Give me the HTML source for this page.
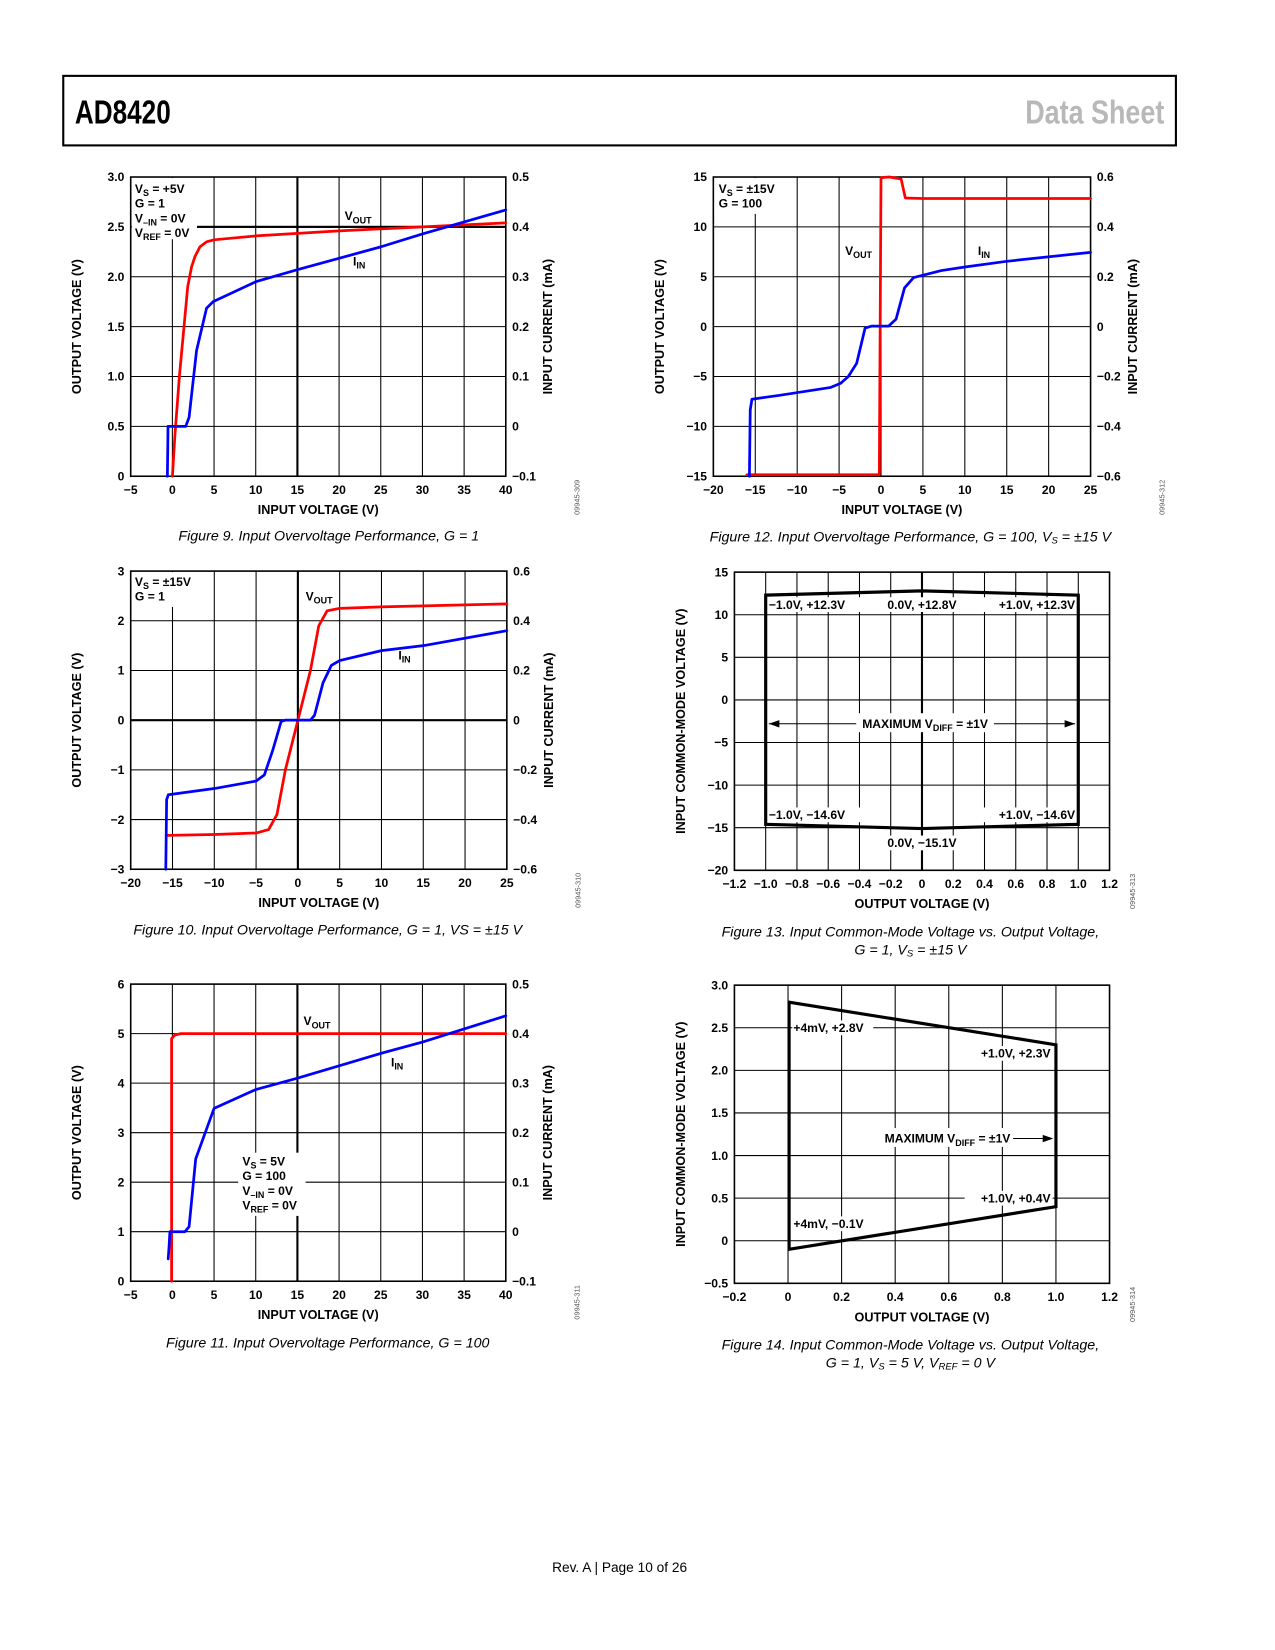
<!DOCTYPE html>
<html><head><meta charset="utf-8"><title>AD8420 Data Sheet p10</title>
<style>
html,body{margin:0;padding:0;background:#fff;}
svg{display:block;font-family:"Liberation Sans",Arial,sans-serif;}
</style></head>
<body>
<svg id="page" width="1275" height="1650" viewBox="0 0 1210 1566" xmlns="http://www.w3.org/2000/svg">
  <rect x="0" y="0" width="1210" height="1566" fill="#fff"/>
  <g>
    <rect x="60" y="72" width="1056" height="66" fill="none" stroke="#000" stroke-width="2"/>
    <text x="71" y="117" font-size="32" font-weight="bold" textLength="91" lengthAdjust="spacingAndGlyphs" fill="#000">AD8420</text>
    <text x="1105" y="117" font-size="32" font-weight="bold" text-anchor="end" textLength="132" lengthAdjust="spacingAndGlyphs" fill="#b8b8b8">Data Sheet</text>
  </g>
  <g id="charts"></g>
  <g font-style="italic" font-size="13.5" fill="#000" text-anchor="middle">
    <text x="312" y="513">Figure 9. Input Overvoltage Performance, G = 1</text>
    <text x="864" y="514">Figure 12. Input Overvoltage Performance, G = 100, V<tspan font-size="9" dy="2">S</tspan><tspan dy="-2"> = ±15 V</tspan></text>
    <text x="311" y="887">Figure 10. Input Overvoltage Performance, G = 1, VS = ±15 V</text>
    <text x="864" y="889">Figure 13. Input Common-Mode Voltage vs. Output Voltage,</text>
    <text x="864" y="906">G = 1, V<tspan font-size="9" dy="2">S</tspan><tspan dy="-2"> = ±15 V</tspan></text>
    <text x="311" y="1279">Figure 11. Input Overvoltage Performance, G = 100</text>
    <text x="864" y="1281">Figure 14. Input Common-Mode Voltage vs. Output Voltage,</text>
    <text x="864" y="1298">G = 1, V<tspan font-size="9" dy="2">S</tspan><tspan dy="-2"> = 5 V, V</tspan><tspan font-size="9" dy="2">REF</tspan><tspan dy="-2"> = 0 V</tspan></text>
  </g>
  <text x="588" y="1492" font-size="13" text-anchor="middle" fill="#000">Rev. A | Page 10 of 26</text>
</svg>
<script>
// ---------- DATA ----------
// Figure 9
const f9XTicks = [-5,0,5,10,15,20,25,30,35,40];
const f9XLabels = ["−5","0","5","10","15","20","25","30","35","40"];
const f9YTicks = [0,0.5,1.0,1.5,2.0,2.5,3.0];
const f9YLabels = ["0","0.5","1.0","1.5","2.0","2.5","3.0"];
const f9Y2Ticks = [-0.1,0,0.1,0.2,0.3,0.4,0.5];
const f9Y2Labels = ["−0.1","0","0.1","0.2","0.3","0.4","0.5"];
const f9VoutX = [0,0.3,0.84,1.4,1.84,2.3,2.7,3.3,4.1,5,10,20,30,40];
const f9VoutY = [0,0.4,1.0,1.5,1.9,2.1,2.2,2.3,2.35,2.37,2.41,2.46,2.5,2.54];
const f9IinX = [-0.6,-0.55,-0.52,1.6,2.0,2.9,4.1,4.9,10,15,25,30,40];
const f9IinY = [-0.1,-0.04,0,0,0.018,0.152,0.237,0.25,0.29,0.314,0.36,0.386,0.434];
// Figure 12
const f12XTicks = [-20,-15,-10,-5,0,5,10,15,20,25];
const f12XLabels = ["−20","−15","−10","−5","0","5","10","15","20","25"];
const f12YTicks = [-15,-10,-5,0,5,10,15];
const f12YLabels = ["−15","−10","−5","0","5","10","15"];
const f12Y2Ticks = [-0.6,-0.4,-0.2,0,0.2,0.4,0.6];
const f12Y2Labels = ["−0.6","−0.4","−0.2","0","0.2","0.4","0.6"];
const f12VoutX = [-16,-0.2,0,0.2,1,2.4,2.9,5,25];
const f12VoutY = [-14.85,-14.85,14.9,14.95,15,14.8,12.9,12.85,12.85];
const f12IinX = [-15.7,-15.6,-15.4,-12.2,-6,-4.8,-3.9,-2.9,-1.9,-1.1,0.9,1.8,2.8,3.9,7.2,10,15,25];
const f12IinY = [-0.6,-0.334,-0.291,-0.276,-0.244,-0.227,-0.2,-0.147,-0.006,0.002,0.002,0.03,0.155,0.197,0.225,0.239,0.262,0.298];
// Figure 10
const f10XTicks = [-20,-15,-10,-5,0,5,10,15,20,25];
const f10XLabels = ["−20","−15","−10","−5","0","5","10","15","20","25"];
const f10YTicks = [-3,-2,-1,0,1,2,3];
const f10YLabels = ["−3","−2","−1","0","1","2","3"];
const f10Y2Ticks = [-0.6,-0.4,-0.2,0,0.2,0.4,0.6];
const f10Y2Labels = ["−0.6","−0.4","−0.2","0","0.2","0.4","0.6"];
const f10VoutX = [-15.6,-10,-5,-3.5,-2.5,-1.5,0,1.5,2.5,3.5,5,10,25];
const f10VoutY = [-2.32,-2.3,-2.27,-2.2,-1.9,-1.0,0,1.0,1.9,2.2,2.25,2.28,2.34];
const f10IinX = [-15.8,-15.7,-15.5,-10,-5,-4,-3,-2,-1.5,1.5,2,3,4,5,10,15,25];
const f10IinY = [-0.6,-0.32,-0.3,-0.275,-0.245,-0.22,-0.12,-0.005,0,0,0.02,0.15,0.22,0.24,0.28,0.3,0.36];
// Figure 11
const f11XTicks = [-5,0,5,10,15,20,25,30,35,40];
const f11XLabels = ["−5","0","5","10","15","20","25","30","35","40"];
const f11YTicks = [0,1,2,3,4,5,6];
const f11YLabels = ["0","1","2","3","4","5","6"];
const f11Y2Ticks = [-0.1,0,0.1,0.2,0.3,0.4,0.5];
const f11Y2Labels = ["−0.1","0","0.1","0.2","0.3","0.4","0.5"];
const f11VoutX = [-0.1,-0.1,0.3,1,40];
const f11VoutY = [0,4.9,4.97,5,5];
const f11IinX = [-0.5,-0.4,-0.3,1.5,2,2.8,5,10,15,20,25,30,40];
const f11IinY = [-0.055,-0.03,0,0,0.01,0.147,0.249,0.287,0.31,0.335,0.36,0.383,0.436];
// Figure 13
const f13XTicks = [-1.2,-1.0,-0.8,-0.6,-0.4,-0.2,0,0.2,0.4,0.6,0.8,1.0,1.2];
const f13XLabels = ["−1.2","−1.0","−0.8","−0.6","−0.4","−0.2","0","0.2","0.4","0.6","0.8","1.0","1.2"];
const f13YTicks = [-20,-15,-10,-5,0,5,10,15];
const f13YLabels = ["−20","−15","−10","−5","0","5","10","15"];
const f13BoundX = [-1.0,0,1.0,1.0,0,-1.0];
const f13BoundY = [12.3,12.8,12.3,-14.6,-15.1,-14.6];
// Figure 14
const f14XTicks = [-0.2,0,0.2,0.4,0.6,0.8,1.0,1.2];
const f14XLabels = ["−0.2","0","0.2","0.4","0.6","0.8","1.0","1.2"];
const f14YTicks = [-0.5,0,0.5,1.0,1.5,2.0,2.5,3.0];
const f14YLabels = ["−0.5","0","0.5","1.0","1.5","2.0","2.5","3.0"];
const f14BoundX = [0.004,1.0,1.0,0.004];
const f14BoundY = [2.8,2.3,0.4,-0.1];

// ---------- DRAWING ----------
const NS = "http://www.w3.org/2000/svg";
const root = document.getElementById('charts');
function mk(tag, attrs, parent) {
  const e = document.createElementNS(NS, tag);
  for (const k in attrs) e.setAttribute(k, attrs[k]);
  parent.appendChild(e);
  return e;
}
function lin(d0, d1, r0, r1) { return v => r0 + (v - d0) * (r1 - r0) / (d1 - d0); }

function chart(cfg) {
  const g = mk('g', {}, root);
  
  
  const [x0, y0, x1, y1] = cfg.box;
  const sx = lin(cfg.xd[0], cfg.xd[1], x0, x1);
  const sy = lin(cfg.yd[0], cfg.yd[1], y1, y0);
  const sy2 = cfg.y2d ? lin(cfg.y2d[0], cfg.y2d[1], y1, y0) : null;
  const grid = mk('g', {stroke: '#000'}, g);
  
  
  cfg.xt.forEach(v => {
    const gl = mk('line', {x1: sx(v), x2: sx(v), y1: y0, y2: y1, 'stroke-width': (cfg.thickX || []).includes(v) ? 2 : 1}, grid);
    
    
  });
  cfg.yt.forEach(v => {
    const gl = mk('line', {x1: x0, x2: x1, y1: sy(v), y2: sy(v), 'stroke-width': (cfg.thickY || []).includes(v) ? 2 : 1}, grid);
    
    
  });
  const frame = mk('rect', {x: x0, y: y0, width: x1 - x0, height: y1 - y0, fill: 'none', stroke: '#000', 'stroke-width': 1.5}, g);
  
  
  const tl = mk('g', {'font-size': 11.5, 'font-weight': 'bold', fill: '#000'}, g);
  cfg.xt.forEach((v, i) => {
    const t = mk('text', {x: sx(v), y: y1 + 17, 'text-anchor': 'middle'}, tl);
    t.textContent = cfg.xl[i];
    
    
  });
  cfg.yt.forEach((v, i) => {
    const t = mk('text', {x: x0 - 6, y: sy(v) + 4, 'text-anchor': 'end'}, tl);
    t.textContent = cfg.yl[i];
    
    
  });
  if (cfg.y2t) cfg.y2t.forEach((v, i) => {
    const t = mk('text', {x: x1 + 6, y: sy2(v) + 4, 'text-anchor': 'start'}, tl);
    t.textContent = cfg.y2l[i];
    
    
  });
  const xt = mk('text', {x: (x0 + x1) / 2, y: y1 + 36, 'text-anchor': 'middle', 'font-size': 12, 'font-weight': 'bold'}, g);
  xt.textContent = cfg.xTitle;
  
  
  const ytx = x0 - cfg.yTitleOff, yty = (y0 + y1) / 2;
  const yt = mk('text', {x: ytx, y: yty, 'text-anchor': 'middle', 'font-size': 12, 'font-weight': 'bold', transform: `rotate(-90 ${ytx} ${yty})`}, g);
  yt.textContent = cfg.yTitle;
  
  
  if (cfg.y2Title) {
    const tx = x1 + 44;
    const t2 = mk('text', {x: tx, y: yty, 'text-anchor': 'middle', 'font-size': 12, 'font-weight': 'bold', transform: `rotate(-90 ${tx} ${yty})`}, g);
    t2.textContent = cfg.y2Title;
    
    
  }
  const cx = x1 + (cfg.codeOff || 70), cy = y1 + 20;
  const code = mk('text', {x: cx, y: cy, 'font-size': 7, fill: '#555', 'text-anchor': 'middle', transform: `rotate(-90 ${cx} ${cy})`}, g);
  code.textContent = cfg.code;
  
  
  return {g, sx, sy, sy2, x0, y0, x1, y1};
}
function series(c, xs, ys, scaleY, color, name, width) {
  const d = xs.map((x, i) => (i ? 'L' : 'M') + c.sx(x).toFixed(1) + ',' + scaleY(ys[i]).toFixed(1)).join(' ');
  const p = mk('path', {d: d, fill: 'none', stroke: color, 'stroke-width': width || 2.6, 'stroke-linejoin': 'round', 'stroke-linecap': 'round'}, c.g);
  
  
  return p;
}
function whiteBox(c, x, y, w, h, name) {
  const r = mk('rect', {x: x, y: y, width: w, height: h, fill: '#fff'}, c.g);
  
  
}
function label(c, x, y, main, sub, name, anchor, tail) {
  const t = mk('text', {x: x, y: y, 'font-size': 11.5, 'font-weight': 'bold', 'text-anchor': anchor || 'start'}, c.g);
  const a = mk('tspan', {}, t); a.textContent = main;
  if (sub) { const b = mk('tspan', {dy: 3, 'font-size': 8.5}, t); b.textContent = sub; }
  if (tail) { const e = mk('tspan', {dy: -3, 'font-size': 11.5}, t); e.textContent = tail; }
  
  
  return t;
}
function legendLines(c, x, y, lines, name) {
  const t = mk('g', {}, c.g);
  
  
  lines.forEach((ln, i) => {
    const tx = mk('text', {x: x, y: y + i * 14, 'font-size': 11.5, 'font-weight': 'bold'}, t);
    const a = mk('tspan', {}, tx); a.textContent = ln[0];
    if (ln[1]) { const b = mk('tspan', {dy: 3, 'font-size': 8.5}, tx); b.textContent = ln[1];
      const cc = mk('tspan', {dy: -3, 'font-size': 11.5}, tx); cc.textContent = ln[2]; }
  });
}

// Figure 9
const c9 = chart({name: 'figure-9-chart', box: [124, 168, 480, 452], xd: [-5, 40], yd: [0, 3], y2d: [-0.1, 0.5],
  xt: f9XTicks, xl: f9XLabels, yt: f9YTicks, yl: f9YLabels, y2t: f9Y2Ticks, y2l: f9Y2Labels, thickX: [15], thickY: [2.5],
  xTitle: 'INPUT VOLTAGE (V)', yTitle: 'OUTPUT VOLTAGE (V)', yTitleOff: 47, y2Title: 'INPUT CURRENT (mA)', code: '09945-309'});
whiteBox(c9, 125, 169, 62, 58, 'legend-background');
mk('line', {x1: 187, x2: 480, y1: c9.sy(2.5), y2: c9.sy(2.5), stroke: '#000', 'stroke-width': 2}, c9.g);
legendLines(c9, 128, 183, [['V', 'S', ' = +5V'], ['G = 1'], ['V', '–IN', ' = 0V'], ['V', 'REF', ' = 0V']], 'conditions-legend');
series(c9, f9VoutX, f9VoutY, c9.sy, '#ff0000', 'vout-series');
series(c9, f9IinX, f9IinY, c9.sy2, '#0000ff', 'iin-series');
label(c9, 327, 209, 'V', 'OUT', 'vout-label');
label(c9, 335, 252, 'I', 'IN', 'iin-label');

// Figure 12
const c12 = chart({name: 'figure-12-chart', box: [677, 168, 1035, 452], xd: [-20, 25], yd: [-15, 15], y2d: [-0.6, 0.6],
  xt: f12XTicks, xl: f12XLabels, yt: f12YTicks, yl: f12YLabels, y2t: f12Y2Ticks, y2l: f12Y2Labels,
  xTitle: 'INPUT VOLTAGE (V)', yTitle: 'OUTPUT VOLTAGE (V)', yTitleOff: 47, y2Title: 'INPUT CURRENT (mA)', code: '09945-312'});
whiteBox(c12, 678, 169, 62, 34, 'legend-background');
legendLines(c12, 682, 183, [['V', 'S', ' = ±15V'], ['G = 100']], 'conditions-legend');
series(c12, f12VoutX, f12VoutY, c12.sy, '#ff0000', 'vout-series');
series(c12, f12IinX, f12IinY, c12.sy2, '#0000ff', 'iin-series');
label(c12, 802, 242, 'V', 'OUT', 'vout-label');
label(c12, 928, 242, 'I', 'IN', 'iin-label');

// Figure 10
const c10 = chart({name: 'figure-10-chart', box: [124, 542, 481, 825], xd: [-20, 25], yd: [-3, 3], y2d: [-0.6, 0.6],
  xt: f10XTicks, xl: f10XLabels, yt: f10YTicks, yl: f10YLabels, y2t: f10Y2Ticks, y2l: f10Y2Labels, thickX: [0], thickY: [0],
  xTitle: 'INPUT VOLTAGE (V)', yTitle: 'OUTPUT VOLTAGE (V)', yTitleOff: 47, y2Title: 'INPUT CURRENT (mA)', code: '09945-310'});
whiteBox(c10, 125, 543, 62, 33, 'legend-background');
legendLines(c10, 128, 556, [['V', 'S', ' = ±15V'], ['G = 1']], 'conditions-legend');
series(c10, f10VoutX, f10VoutY, c10.sy, '#ff0000', 'vout-series');
series(c10, f10IinX, f10IinY, c10.sy2, '#0000ff', 'iin-series');
label(c10, 290, 570, 'V', 'OUT', 'vout-label');
label(c10, 378, 626, 'I', 'IN', 'iin-label');

// Figure 11
const c11 = chart({name: 'figure-11-chart', box: [124, 934, 480, 1216], xd: [-5, 40], yd: [0, 6], y2d: [-0.1, 0.5],
  xt: f11XTicks, xl: f11XLabels, yt: f11YTicks, yl: f11YLabels, y2t: f11Y2Ticks, y2l: f11Y2Labels, thickX: [15],
  xTitle: 'INPUT VOLTAGE (V)', yTitle: 'OUTPUT VOLTAGE (V)', yTitleOff: 47, y2Title: 'INPUT CURRENT (mA)', code: '09945-311'});
whiteBox(c11, 226, 1094, 64, 60, 'legend-background');
legendLines(c11, 230, 1106, [['V', 'S', ' = 5V'], ['G = 100'], ['V', '–IN', ' = 0V'], ['V', 'REF', ' = 0V']], 'conditions-legend');
series(c11, f11VoutX, f11VoutY, c11.sy, '#ff0000', 'vout-series');
series(c11, f11IinX, f11IinY, c11.sy2, '#0000ff', 'iin-series');
label(c11, 288, 973, 'V', 'OUT', 'vout-label');
label(c11, 371, 1012, 'I', 'IN', 'iin-label');

// Figure 13
const c13 = chart({name: 'figure-13-chart', box: [697, 543, 1053, 826], xd: [-1.2, 1.2], yd: [-20, 15],
  xt: f13XTicks, xl: f13XLabels, yt: f13YTicks, yl: f13YLabels, thickX: [0],
  xTitle: 'OUTPUT VOLTAGE (V)', yTitle: 'INPUT COMMON-MODE VOLTAGE (V)', yTitleOff: 47, code: '09945-313', codeOff: 24});
{
  const lab13 = [['−1.0V, +12.3V', -0.98, 12.3, 'start', 13], ['0.0V, +12.8V', 0, 12.3, 'middle', 13], ['+1.0V, +12.3V', 0.98, 12.3, 'end', 13],
                 ['−1.0V, −14.6V', -0.98, -14.6, 'start', -5], ['+1.0V, −14.6V', 0.98, -14.6, 'end', -5], ['0.0V, −15.1V', 0, -17.9, 'middle', -5]];
  lab13.forEach(l => {
    const tx = c13.sx(l[1]), ty = c13.sy(l[2]) + l[4];
    const w = l[0].length * 6.8;
    const bx = l[3] === 'start' ? tx - 1 : l[3] === 'end' ? tx - w : tx - w / 2;
    whiteBox(c13, bx, ty - 11, w + 2, 14, 'label-background');
    const t = mk('text', {x: tx, y: ty, 'font-size': 11.5, 'font-weight': 'bold', 'text-anchor': l[3]}, c13.g);
    t.textContent = l[0];
    
    
  });
  const d = f13BoundX.map((x, i) => (i ? 'L' : 'M') + c13.sx(x) + ',' + c13.sy(f13BoundY[i])).join(' ') + ' Z';
  const p = mk('path', {d: d, fill: 'none', stroke: '#000', 'stroke-width': 3, 'stroke-linejoin': 'miter'}, c13.g);
  
  
  const ay = c13.sy(-2.8);
  mk('line', {x1: c13.sx(-0.98), x2: c13.sx(-0.42), y1: ay, y2: ay, stroke: '#000', 'stroke-width': 1}, c13.g);
  mk('line', {x1: c13.sx(0.46), x2: c13.sx(0.98), y1: ay, y2: ay, stroke: '#000', 'stroke-width': 1}, c13.g);
  mk('path', {d: `M${c13.sx(-0.98)},${ay} l10,-3.5 l0,7 Z`, fill: '#000'}, c13.g);
  mk('path', {d: `M${c13.sx(0.98)},${ay} l-10,-3.5 l0,7 Z`, fill: '#000'}, c13.g);
  whiteBox(c13, c13.sx(-0.42), ay - 10, c13.sx(0.46) - c13.sx(-0.42), 18, 'label-background');
  label(c13, c13.sx(0.02), ay + 4, 'MAXIMUM V', 'DIFF', 'max-vdiff-label', 'middle', ' = ±1V');
}

// Figure 14
const c14 = chart({name: 'figure-14-chart', box: [697, 935, 1053, 1218], xd: [-0.2, 1.2], yd: [-0.5, 3.0],
  xt: f14XTicks, xl: f14XLabels, yt: f14YTicks, yl: f14YLabels,
  xTitle: 'OUTPUT VOLTAGE (V)', yTitle: 'INPUT COMMON-MODE VOLTAGE (V)', yTitleOff: 47, code: '09945-314', codeOff: 24});
{
  const lab14 = [['+4mV, +2.8V', 0.02, 2.45, 'start'], ['+1.0V, +2.3V', 0.98, 2.15, 'end'],
                 ['+1.0V, +0.4V', 0.98, 0.45, 'end'], ['+4mV, −0.1V', 0.02, 0.15, 'start']];
  lab14.forEach(l => {
    const tx = c14.sx(l[1]), ty = c14.sy(l[2]);
    const w = l[0].length * 6.8;
    const bx = l[3] === 'start' ? tx - 1 : tx - w;
    whiteBox(c14, bx, ty - 11, w + 2, 14, 'label-background');
    const t = mk('text', {x: tx, y: ty, 'font-size': 11.5, 'font-weight': 'bold', 'text-anchor': l[3]}, c14.g);
    t.textContent = l[0];
    
    
  });
  const d = f14BoundX.map((x, i) => (i ? 'L' : 'M') + c14.sx(x) + ',' + c14.sy(f14BoundY[i])).join(' ') + ' Z';
  const p = mk('path', {d: d, fill: 'none', stroke: '#000', 'stroke-width': 3, 'stroke-linejoin': 'miter'}, c14.g);
  
  
  const ay = c14.sy(1.2);
  whiteBox(c14, c14.sx(0.35), ay - 10, c14.sx(0.84) - c14.sx(0.35), 18, 'label-background');
  mk('line', {x1: c14.sx(0.84), x2: c14.sx(0.985), y1: ay, y2: ay, stroke: '#000', 'stroke-width': 1}, c14.g);
  mk('path', {d: `M${c14.sx(0.99)},${ay} l-10,-3.5 l0,7 Z`, fill: '#000'}, c14.g);
  label(c14, c14.sx(0.83), ay + 4, 'MAXIMUM V', 'DIFF', 'max-vdiff-label', 'end', ' = ±1V');
}
</script>
</body></html>
